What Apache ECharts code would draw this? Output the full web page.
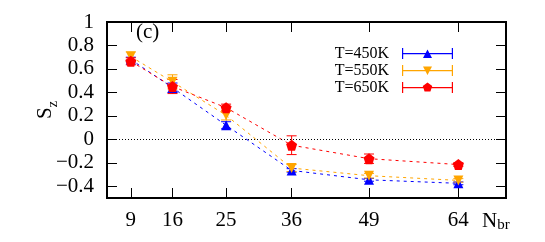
<!DOCTYPE html>
<html>
<head>
<meta charset="utf-8">
<script src="https://cdn.jsdelivr.net/npm/echarts@6/dist/echarts.min.js"></script>
<style>
html,body{margin:0;padding:0;background:#fff;}
#c{width:545px;height:242px;}
</style>
</head>
<body>
<div id="c"></div>
<script>
// ---- data ----
const categories = [9, 16, 25, 36, 49, 64];
const xTicks = [9, 16, 25, 36, 49, 64];
const yTicks = [-0.4, -0.2, 0, 0.2, 0.4, 0.6, 0.8, 1];
const names = ['T=450K', 'T=550K', 'T=650K'];
const s450 = [0.68, 0.44, 0.12, -0.265, -0.345, -0.375];
const e450 = [0.02, 0.04, 0.03, 0.015, 0.012, 0.012];
const s550 = [0.705, 0.49, 0.205, -0.245, -0.31, -0.35];
const e550 = [0.04, 0.06, 0.04, 0.03, 0.02, 0.015];
const s650 = [0.665, 0.45, 0.27, -0.05, -0.165, -0.215];
const e650 = [0.03, 0.06, 0.03, 0.08, 0.04, 0.015];

const FONT = 'Liberation Serif';
const colors = ['#0000ff', '#ffa500', '#ff0000'];
const pentagon = 'path://M5 0 L9.76 3.45 L7.94 9.05 L2.06 9.05 L0.24 3.45 Z';

const iconBase = 'M0 5 H51 V6.2 H0 Z M0 0 H1.2 V11 H0 Z M49.8 0 H51 V11 H49.8 Z ';
const icons = [
  'path://' + iconBase + 'M21 10 L25.5 1.5 L30 10 Z',
  'path://' + iconBase + 'M21 1.5 L30 1.5 L25.5 10 Z',
  'path://' + iconBase + 'M25.5 0.5 L30.26 3.95 L28.44 9.55 L22.56 9.55 L20.74 3.95 Z'
];

function errSeries(vals, errs, color) {
  return {
    type: 'custom',
    name: 'err',
    xAxisIndex: 0, yAxisIndex: 0,
    data: categories.map((n, i) => [n, vals[i], errs[i]]),
    encode: { x: 0, y: 1 },
    z: 2,
    renderItem: function (params, api) {
      const x = api.value(0), y = api.value(1), e = api.value(2);
      const t = api.coord([x, y + e]);
      const b = api.coord([x, y - e]);
      const w = 5;
      const st = { stroke: color, lineWidth: 1 };
      return {
        type: 'group',
        children: [
          { type: 'line', shape: { x1: t[0], y1: t[1], x2: b[0], y2: b[1] }, style: st },
          { type: 'line', shape: { x1: t[0] - w, y1: t[1], x2: t[0] + w, y2: t[1] }, style: st },
          { type: 'line', shape: { x1: b[0] - w, y1: b[1], x2: b[0] + w, y2: b[1] }, style: st }
        ]
      };
    }
  };
}

function lineSeries(name, vals, color, symbol, rotate, size) {
  return {
    type: 'line',
    name: name,
    data: categories.map((n, i) => [n, vals[i]]),
    symbol: symbol,
    symbolRotate: rotate,
    symbolSize: size,
    showAllSymbol: true,
    lineStyle: { color: color, width: 1, type: [3, 4] },
    itemStyle: { color: color },
    z: 3,
    animation: false
  };
}

const fmtY = v => {
  const r = Math.round(v * 10) / 10;
  return (r < 0 ? '\u2212' + Math.abs(r) : String(r));
};

const chart = echarts.init(document.getElementById('c'), null, { renderer: 'canvas' });
const tickStyle = { show: true, inside: true, length: 10, lineStyle: { color: '#000', width: 1 } };
const noLine = { show: false, onZero: false };

const s1 = lineSeries(names[0], s450, colors[0], 'triangle', 0, 10);
s1.markLine = {
  silent: true, symbol: 'none', label: { show: false },
  lineStyle: { color: '#000', width: 1, type: [1, 2] },
  data: [{ yAxis: 0 }],
  animation: false
};

const richSub = {
  n: { fontFamily: FONT, fontSize: 21, fill: '#000', color: '#000' },
  s: { fontFamily: FONT, fontSize: 15, fill: '#000', color: '#000', verticalAlign: 'bottom', padding: [8, 0, 0, 0] }
};

chart.setOption({
  animation: false,
  backgroundColor: '#fff',
  textStyle: { fontFamily: FONT },
  grid: { left: 107, top: 22, right: 39, bottom: 44, show: true, borderColor: '#000', borderWidth: 2, backgroundColor: 'transparent' },
  title: { text: '(c)', left: 131, top: 17, textStyle: { fontFamily: FONT, fontSize: 21, fontWeight: 'normal', color: '#000' } },
  graphic: [
    {
      type: 'group', x: 55.5, y: 119, rotation: Math.PI / 2,
      children: [
        { type: 'text', x: 0, y: 0, style: { text: 'S', font: '21px "Liberation Serif"', fill: '#000', align: 'left', verticalAlign: 'bottom' } },
        { type: 'text', x: 11.5, y: 5, style: { text: 'z', font: '15px "Liberation Serif"', fill: '#000', align: 'left', verticalAlign: 'bottom' } }
      ]
    }
  ],
  legend: {
    orient: 'vertical', right: 92, top: 45, align: 'right', padding: 0,
    itemWidth: 51, itemHeight: 11, itemGap: 0,
    textStyle: { fontFamily: FONT, fontSize: 16, color: '#000', lineHeight: 17 },
    formatter: n => n + '\u00a0\u00a0',
    data: names.map((n, i) => ({ name: n, icon: icons[i], itemStyle: { color: colors[i] } }))
  },
  xAxis: [
    {
      type: 'value', min: 5, max: 72, position: 'bottom',
      axisLine: noLine, splitLine: { show: false },
      axisTick: Object.assign({ customValues: xTicks }, tickStyle),
      axisLabel: { customValues: xTicks, fontFamily: FONT, fontSize: 21, color: '#000', margin: 12 },
      name: '{n|N}{s|br}', nameLocation: 'end', nameGap: -24,
      nameTextStyle: {
        align: 'left', verticalAlign: 'top', padding: [12, 0, 0, 0],
        rich: richSub
      }
    },
    {
      type: 'value', min: 5, max: 72, position: 'top',
      axisLine: noLine, splitLine: { show: false },
      axisTick: Object.assign({ customValues: xTicks }, tickStyle),
      axisLabel: { show: false }
    }
  ],
  yAxis: [
    {
      type: 'value', min: -0.5, max: 1, position: 'left',
      axisLine: noLine, splitLine: { show: false },
      axisTick: Object.assign({ customValues: yTicks }, tickStyle),
      axisLabel: { customValues: yTicks, formatter: fmtY, fontFamily: FONT, fontSize: 21, color: '#000', margin: 13 }
    },
    {
      type: 'value', min: -0.5, max: 1, position: 'right',
      axisLine: noLine, splitLine: { show: false },
      axisTick: Object.assign({ customValues: yTicks }, tickStyle),
      axisLabel: { show: false }
    }
  ],
  series: [
    errSeries(s450, e450, colors[0]),
    s1,
    errSeries(s550, e550, colors[1]),
    lineSeries(names[1], s550, colors[1], 'triangle', 180, 10),
    errSeries(s650, e650, colors[2]),
    lineSeries(names[2], s650, colors[2], pentagon, 0, 11)
  ]
});
</script>
</body>
</html>
